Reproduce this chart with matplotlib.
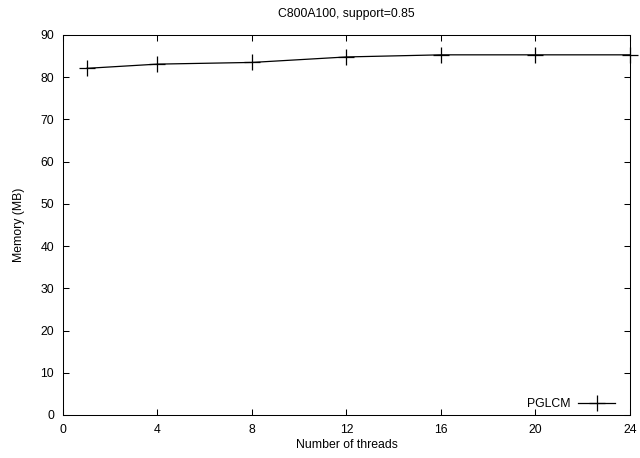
import matplotlib
matplotlib.use("Agg")
import matplotlib.pyplot as plt

threads = [1, 4, 8, 12, 16, 20, 24]
memory = [82.1, 83.1, 83.5, 84.8, 85.3, 85.3, 85.3]

x_ticks = [0, 4, 8, 12, 16, 20, 24]
y_ticks = [0, 10, 20, 30, 40, 50, 60, 70, 80, 90]

plt.rcParams["font.family"] = ["Liberation Sans", "DejaVu Sans"]
plt.rcParams["font.size"] = 8.8

fig = plt.figure(figsize=(6.4, 4.58), dpi=100)
ax = fig.add_axes([0.0984, 0.0939, 0.8859, 0.8297])

ax.plot(threads, memory, color="black", linewidth=0.9, marker="+",
        markersize=12, markeredgewidth=0.9, label="PGLCM", clip_on=False)

ax.set_xlim(0, 24)
ax.set_ylim(0, 90)
ax.set_xticks(x_ticks)
ax.set_yticks(y_ticks)
ax.tick_params(direction="in", top=True, right=True, length=4, width=0.75)
ax.tick_params(axis="x", pad=6.5)
ax.tick_params(axis="y", pad=6.3)
for s in ax.spines.values():
    s.set_linewidth(0.75)

ax.set_title("C800A100, support=0.85", fontsize=8.8, pad=13)
ax.set_xlabel("Number of threads", labelpad=2)
ax.set_ylabel("Memory (MB)", labelpad=11)

ax.legend(loc="center right", bbox_to_anchor=(0.9735, 0.029),
          frameon=False, markerfirst=False, handlelength=3.0,
          handletextpad=0.6, borderpad=0, borderaxespad=0)

fig.savefig("out.png", dpi=100)
